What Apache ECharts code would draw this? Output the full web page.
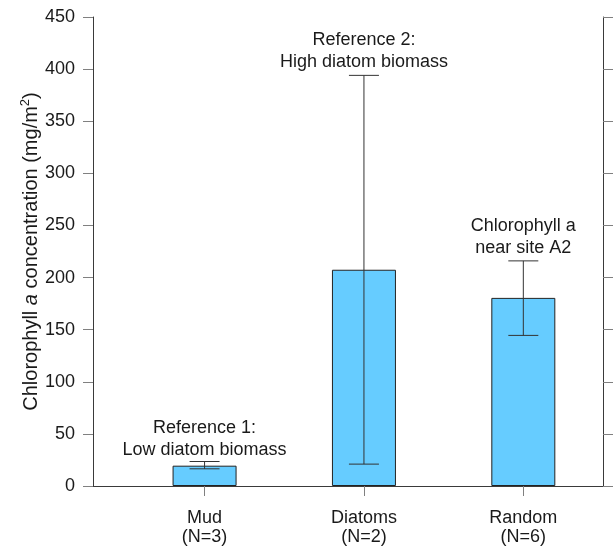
<!DOCTYPE html>
<html>
<head>
<meta charset="utf-8">
<script src="https://cdn.jsdelivr.net/npm/echarts@6/dist/echarts.min.js"></script>
<style>
  html, body { margin: 0; padding: 0; background: #fff; }
  #chart { width: 614px; height: 547px; }
</style>
</head>
<body>
<div id="chart"></div>
<script>
// Chlorophyll a concentration by substrate type (mg/m2): means with ranges
const categories = ['Mud', 'Diatoms', 'Random'];
const sampleSizes = [3, 2, 6];
const meanChl = [19.5, 207.5, 180.5];
const upperChl = [23.5, 394, 216];
const lowerChl = [16.5, 21, 144.5];
const notes = [
  'Reference 1:\nLow diatom biomass',
  'Reference 2:\nHigh diatom biomass',
  'Chlorophyll a\nnear site A2'
];

const FONT = 'Liberation Sans, Arial, Helvetica, sans-serif';
const AXIS_COLOR = '#3a3a3a';
const TICK_COLOR = '#808080';
const TEXT_COLOR = '#1a1a1a';
const catPos = categories.map((c, i) => i + 1);
// lift of each note above its upper whisker, px
const noteLift = [0, 2, 2];

const chart = echarts.init(document.getElementById('chart'), null, { renderer: 'canvas' });

const xBase = {
  type: 'value', min: 0.3, max: 3.5,
  splitLine: { show: false },
  axisLine: { show: true, lineStyle: { color: AXIS_COLOR, width: 1 } },
  axisTick: { show: true, customValues: catPos, length: 10, inside: false, lineStyle: { color: TICK_COLOR, width: 1 } }
};
const yBase = {
  type: 'value', min: 0, max: 450, interval: 50,
  splitLine: { show: false },
  axisLine: { show: true, lineStyle: { color: AXIS_COLOR, width: 1 } },
  axisTick: { show: true, length: 10, inside: false, lineStyle: { color: TICK_COLOR, width: 1 } }
};

chart.setOption({
  animation: false,
  backgroundColor: '#ffffff',
  textStyle: { fontFamily: FONT },
  grid: { left: 93, right: 11, top: 17, bottom: 58, containLabel: false },
  xAxis: [
    Object.assign({}, xBase, {
      position: 'bottom',
      axisLabel: {
        customValues: catPos,
        formatter: v => {
          const i = Math.round(v) - 1;
          return categories[i] + '\n(N=' + sampleSizes[i] + ')';
        },
        fontSize: 18, lineHeight: 19, color: TEXT_COLOR, margin: 23, fontFamily: FONT
      }
    }),
    Object.assign({}, xBase, { position: 'top', axisLabel: { show: false } })
  ],
  yAxis: [
    Object.assign({}, yBase, {
      position: 'left',
      axisLabel: { fontSize: 18, color: TEXT_COLOR, margin: 18, fontFamily: FONT },
      name: 'Chlorophyll {it|a} concentration (mg/m{sup|2})',
      nameLocation: 'middle',
      nameGap: 50,
      nameMoveOverlap: false,
      nameTextStyle: {
        fontSize: 20, color: TEXT_COLOR, fontFamily: FONT, lineHeight: 24,
        rich: {
          it: { fontStyle: 'italic', fontSize: 20, fontFamily: FONT, color: TEXT_COLOR, lineHeight: 24 },
          sup: { fontSize: 13, fontFamily: FONT, color: TEXT_COLOR, verticalAlign: 'top', lineHeight: 15 }
        }
      }
    }),
    Object.assign({}, yBase, { position: 'right', axisLabel: { show: false } })
  ],
  series: [
    {
      type: 'bar',
      xAxisIndex: 0, yAxisIndex: 0,
      barWidth: 64,
      data: meanChl.map((v, i) => [catPos[i], v]),
      itemStyle: { color: '#66CCFF', borderColor: '#222', borderWidth: 1 },
      z: 2
    },
    {
      type: 'custom',
      xAxisIndex: 0, yAxisIndex: 0,
      clip: false,
      z: 3,
      data: catPos.map((x, i) => [x, lowerChl[i], upperChl[i]]),
      renderItem: (params, api) => {
        const x = api.value(0);
        const lo = api.coord([x, api.value(1)]);
        const hi = api.coord([x, api.value(2)]);
        const half = 15;
        const ls = { stroke: '#333', lineWidth: 1 };
        return {
          type: 'group',
          children: [
            { type: 'line', shape: { x1: hi[0], y1: hi[1], x2: lo[0], y2: lo[1] }, style: ls },
            { type: 'line', shape: { x1: hi[0] - half, y1: hi[1], x2: hi[0] + half, y2: hi[1] }, style: ls },
            { type: 'line', shape: { x1: lo[0] - half, y1: lo[1], x2: lo[0] + half, y2: lo[1] }, style: ls }
          ]
        };
      }
    },
    {
      type: 'custom',
      xAxisIndex: 0, yAxisIndex: 0,
      clip: false,
      z: 4,
      data: catPos.map((x, i) => [x, upperChl[i]]),
      renderItem: (params, api) => {
        const p = api.coord([api.value(0), api.value(1)]);
        return {
          type: 'text',
          x: p[0],
          y: p[1] - noteLift[params.dataIndex],
          style: {
            text: notes[params.dataIndex],
            fontSize: 18, fontFamily: FONT, fill: TEXT_COLOR,
            lineHeight: 22, align: 'center', verticalAlign: 'bottom'
          }
        };
      }
    }
  ]
});
</script>
</body>
</html>
